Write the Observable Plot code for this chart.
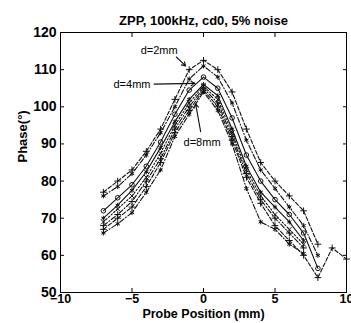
<!DOCTYPE html>
<html><head><meta charset="utf-8">
<script src="https://cdn.jsdelivr.net/npm/d3@7"></script>
<script src="https://cdn.jsdelivr.net/npm/@observablehq/plot@0.6"></script>
<style>
body{margin:0;background:#fff}
svg{font-family:"Liberation Sans",Arial,sans-serif}
</style>
</head><body><div id="chart"></div>
<script>
const title = "ZPP, 100kHz, cd0, 5% noise";
const xLabel = "Probe Position (mm)";
const yLabel = "Phase(°)";
const positions = [-7,-6,-5,-4,-3,-2,-1,0,1,2,3,4,5,6,7,8,9,10];
const seriesA = [77, 80, 83, 88, 94, 102, 110, 112.5, 110, 104, 94, 85, 80, 76, 72, 63, null, null];
const seriesB = [76, 78.5, 82, 87, 93, 100, 107.5, 111, 108, 101, 91, 83, 78, 73, 68, 60, null, null];
const seriesC = [72, 75.5, 79, 84, 90.5, 98, 104.5, 108, 105, 97, 87, 80, 75, 71, 66, 56.5, null, null];
const seriesD = [70, 73.5, 77.5, 82.5, 89, 96, 102, 106, 103, 94, 84, 77, 73, 69, 64, null, null, null];
const seriesE = [69, 72.5, 76, 81, 87.5, 95, 101, 105.5, 102, 93, 83, 76, 71, 67, 63, null, null, null];
const seriesF = [68, 71, 74.5, 80, 86, 94, 100, 105, 101, 92, 82, 75, 70, 66, 62, null, null, null];
const seriesG = [67, 70, 73, 78.5, 85, 93, 99, 104.5, 100, 91, 81, 74, 68, 64, 60, 54, 62, 59];
const seriesH = [66, 68.5, 71.5, 77, 83, 92, 98, 104, 99, 90, 78, 69, 67, 63, 60.5, null, null, null];
const seriesNames = ["A","B","C","D","E","F","G","H"];
const seriesValues = [seriesA, seriesB, seriesC, seriesD, seriesE, seriesF, seriesG, seriesH];
const seriesDash = ["4,2", "5,2,1,2", null, null, "1.5,2", "5,2,1,2", "4,2", "5,2,1,2"];
const seriesSymbol = ["plus", "asterisk", "circle", "asterisk", "times", "plus", "plus", "asterisk"];
const xTicks = [-10, -5, 0, 5, 10];
const yTicks = [50, 60, 70, 80, 90, 100, 110, 120];
const noteText = ["d=2mm", "d=4mm", "d=8mm"];
const noteX = [-3.1, -5.0, -0.1];
const noteY = [115.2, 106.1, 90.4];
const arrowX1 = [-1.9, -3.45, -0.2];
const arrowY1 = [113.4, 106.1, 93.3];
const arrowX2 = [-1.25, -0.6, -0.55];
const arrowY2 = [111, 106.3, 100.8];

const rows = [];
seriesNames.forEach((name, i) => {
  positions.forEach((p, j) => {
    const v = seriesValues[i][j];
    if (v != null) rows.push({series: name, x: p, y: v});
  });
});
const notes = noteText.map((t, i) => ({t, x: noteX[i], y: noteY[i], x1: arrowX1[i], y1: arrowY1[i], x2: arrowX2[i], y2: arrowY2[i]}));

const marks = [];
seriesNames.forEach((name, i) => {
  const data = rows.filter(r => r.series === name);
  marks.push(Plot.line(data, {x: "x", y: "y", stroke: "#111", strokeWidth: 1.1, strokeDasharray: seriesDash[i]}));
  marks.push(Plot.dot(data, {x: "x", y: "y", stroke: "#111", strokeWidth: 1, r: 2.3, symbol: seriesSymbol[i]}));
});

const chart = Plot.plot({
  width: 351, height: 323,
  marginLeft: 60, marginRight: 5, marginTop: 32, marginBottom: 31,
  style: {fontSize: "13px", color: "#000", background: "#fff"},
  x: {domain: [-10, 10], label: null},
  y: {domain: [50, 120], label: null},
  marks: [
    ...marks,
    Plot.arrow(notes, {x1: "x1", y1: "y1", x2: "x2", y2: "y2", stroke: "#111", strokeWidth: 1.1, headLength: 6}),
    Plot.text(notes, {x: "x", y: "y", text: "t", fontSize: 11, fill: "#000"}),
    Plot.frame({stroke: "#000", strokeWidth: 1}),
    Plot.axisX(xTicks, {anchor: "bottom", tickSize: -4, tickPadding: 6, fontSize: 12.5, fontWeight: "bold"}),
    Plot.axisX(xTicks, {anchor: "top", tickSize: -4, tickFormat: () => ""}),
    Plot.axisY(yTicks, {anchor: "left", tickSize: -4, tickPadding: 8, fontSize: 14, fontWeight: "bold"}),
    Plot.axisY(yTicks, {anchor: "right", tickSize: -4, tickFormat: () => ""}),
    Plot.text([title], {frameAnchor: "top", dy: -17, fontSize: 13, fontWeight: "bold"}),
    Plot.text([xLabel], {frameAnchor: "bottom", dy: 25, fontSize: 12.5, fontWeight: "bold"}),
    Plot.text([yLabel], {frameAnchor: "left", dx: -38, rotate: -90, fontSize: 13, fontWeight: "bold"})
  ]
});
document.getElementById("chart").appendChild(chart);
</script>
</body></html>
